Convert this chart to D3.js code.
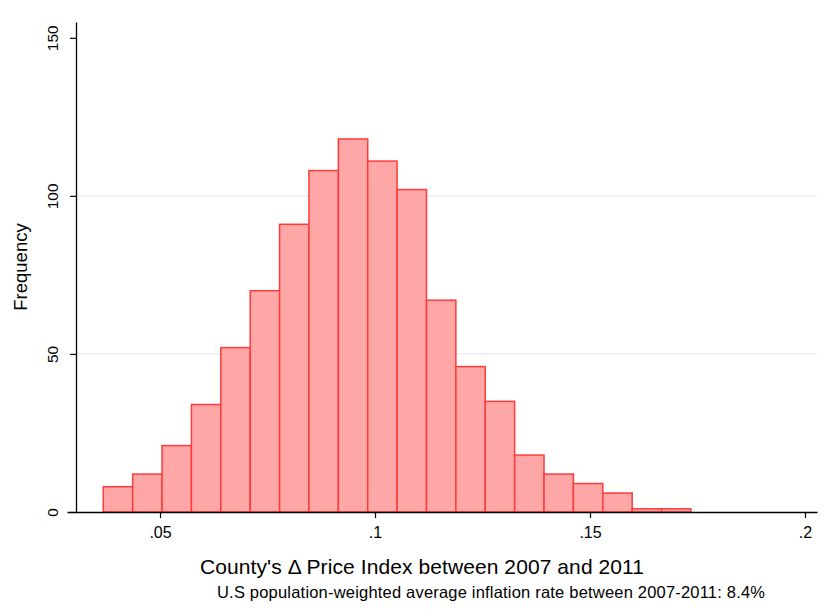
<!DOCTYPE html>
<html><head><meta charset="utf-8">
<script src="https://cdn.jsdelivr.net/npm/d3@7"></script>
<style>body{margin:0;background:#fff;} svg{display:block;font-family:"Liberation Sans",Arial,Helvetica,sans-serif;}</style>
</head><body>
<svg id="c" width="829" height="610"></svg>
<script>
// Data
const binStart = 0.03681;
const binWidth = 0.006833;
const counts = [8, 12, 21, 34, 52, 70, 91, 108, 118, 111, 102, 67, 46, 35, 18, 12, 9, 6, 1, 1];
const xTicks = [0.05, 0.1, 0.15, 0.2];
const xTickLabels = [".05", ".1", ".15", ".2"];
const yTicks = [0, 50, 100, 150];
const yGrid = [50, 100];
const xTitle = "County's \u0394 Price Index between 2007 and 2011";
const yTitle = "Frequency";
const note = "U.S population-weighted average inflation rate between 2007-2011: 8.4%";

const bins = counts.map((c, i) => ({x0: binStart + i * binWidth, x1: binStart + (i + 1) * binWidth, n: c}));

const svg = d3.select("#c");
const x = d3.scaleLinear().domain([0.02837, 0.20279]).range([67, 817]);
const y = d3.scaleLinear().domain([0, 155]).range([512, 22]);

// grid
svg.append("g").selectAll("line").data(yGrid).join("line")
  .attr("x1", 77).attr("x2", 817)
  .attr("y1", d => y(d)).attr("y2", d => y(d))
  .attr("stroke", "#e3ebf0").attr("stroke-width", 1.3);

// bars
svg.append("g").selectAll("rect").data(bins).join("rect")
  .attr("x", d => x(d.x0))
  .attr("y", d => y(d.n))
  .attr("width", d => x(d.x1) - x(d.x0))
  .attr("height", d => y(0) - y(d.n))
  .attr("fill", "#ffa6a6")
  .attr("stroke", "#ff3b3b")
  .attr("stroke-width", 1.5);

// x axis
const xAxis = d3.axisBottom(x).tickValues(xTicks).tickFormat((d, i) => xTickLabels[i]).tickSize(6).tickSizeOuter(0);
const gx = svg.append("g").attr("transform", `translate(0,${y(0)})`).call(xAxis);
gx.select(".domain").attr("stroke", "#000").attr("stroke-width", 1.3);
gx.selectAll(".tick line").attr("stroke", "#000").attr("stroke-width", 1.2);
gx.selectAll(".tick text").attr("font-size", 16).attr("fill", "#000").attr("dy", null).attr("y", 26)
  .attr("font-family", "Liberation Sans, Arial, sans-serif");

// y axis
const yAxis = d3.axisLeft(y).tickValues(yTicks).tickSize(6).tickSizeOuter(0);
const gy = svg.append("g").attr("transform", `translate(76,0)`).call(yAxis);
gy.select(".domain").attr("stroke", "#000").attr("stroke-width", 1.3);
gy.selectAll(".tick line").attr("stroke", "#000").attr("stroke-width", 1.2);
gy.selectAll(".tick text").attr("font-size", 15.5).attr("fill", "#000")
  .attr("font-family", "Liberation Sans, Arial, sans-serif")
  .attr("x", null).attr("dy", null)
  .attr("text-anchor", "middle")
  .attr("transform", "translate(-18,0) rotate(-90)");

// titles
svg.append("text").attr("x", 200).attr("y", 574).attr("text-anchor", "start")
  .attr("font-size", 21).attr("textLength", 444).attr("lengthAdjust", "spacing")
  .attr("fill", "#000").text(xTitle);
svg.append("text").attr("transform", "translate(27,267) rotate(-90)").attr("text-anchor", "middle")
  .attr("font-size", 18.5).attr("fill", "#000").text(yTitle);
svg.append("text").attr("x", 217).attr("y", 598).attr("text-anchor", "start")
  .attr("font-size", 16.5).attr("textLength", 548).attr("lengthAdjust", "spacing")
  .attr("fill", "#000").text(note);
</script>
</body></html>
